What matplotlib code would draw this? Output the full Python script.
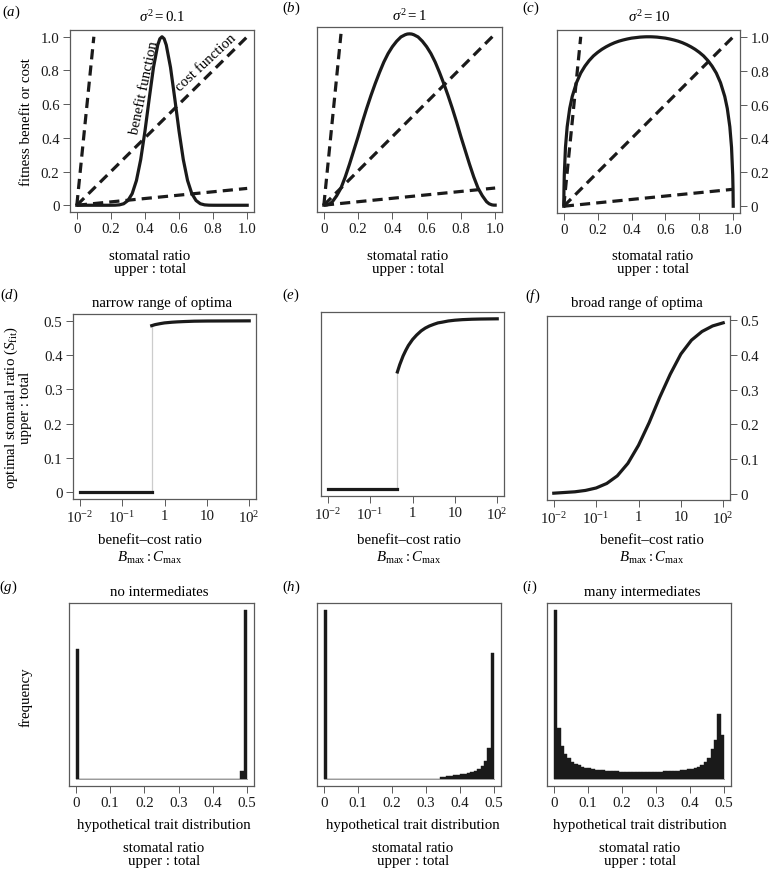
import numpy as np
import matplotlib
matplotlib.use("Agg")
import matplotlib.pyplot as plt

# ---- data ----
# row 1: benefit functions for three variances, x = stomatal ratio
ratio_x = [0, 0.001, 0.003, 0.01, 0.02, 0.035, 0.05, 0.075, 0.1, 0.125, 0.15, 0.175,
           0.2, 0.225, 0.25, 0.275, 0.3, 0.325, 0.35, 0.375, 0.4, 0.425, 0.45, 0.475,
           0.4875, 0.5, 0.5125, 0.525, 0.55, 0.575, 0.6, 0.625, 0.65, 0.675, 0.7,
           0.725, 0.75, 0.775, 0.8, 0.825, 0.85, 0.875, 0.9, 0.925, 0.95, 0.965,
           0.98, 0.99, 0.997, 0.999, 1.0]
benefit_s01 = [0, 0, 0, 0, 0, 0, 0, 0, 0, 0, 0, 0,
               0.0001, 0.0005, 0.0024, 0.009, 0.028, 0.069, 0.147, 0.271, 0.44, 0.633,
               0.818, 0.951, 0.988, 1.0, 0.988, 0.951, 0.818, 0.633, 0.44, 0.271,
               0.147, 0.069, 0.028, 0.009, 0.0024, 0.0005, 0.0001, 0, 0, 0, 0, 0,
               0, 0, 0, 0, 0, 0, 0]
benefit_s1 = [0, 0, 0, 0.0003, 0.002, 0.008, 0.02, 0.055, 0.10, 0.165, 0.24, 0.32,
              0.40, 0.485, 0.565, 0.64, 0.71, 0.775, 0.835, 0.885, 0.925, 0.957,
              0.982, 0.995, 0.999, 1.0, 0.999, 0.995, 0.982, 0.957, 0.925, 0.885,
              0.835, 0.775, 0.71, 0.64, 0.565, 0.485, 0.40, 0.32, 0.24, 0.165, 0.10,
              0.055, 0.02, 0.008, 0.002, 0.0003, 0, 0, 0]
benefit_s10 = [0, 0.092, 0.185, 0.348, 0.469, 0.577, 0.648, 0.729, 0.786, 0.827,
               0.860, 0.887, 0.908, 0.926, 0.941, 0.954, 0.965, 0.974, 0.981, 0.987,
               0.992, 0.995, 0.998, 0.9995, 1.0, 1.0, 1.0, 0.9995, 0.998, 0.995,
               0.992, 0.987, 0.981, 0.974, 0.965, 0.954, 0.941, 0.926, 0.908, 0.887,
               0.860, 0.827, 0.786, 0.729, 0.648, 0.577, 0.469, 0.348, 0.185, 0.092, 0]

# cost functions (three slopes)
cost_x = [[0, 0.1], [0, 1.0], [0, 1.0]]
cost_y = [[0, 1.0], [0, 1.0], [0, 0.1]]

# row 2: optimal ratio vs benefit-cost ratio
narrow_lo_x = [0.01, 0.5]
narrow_lo_y = [0.0, 0.0]
narrow_hi_x = [0.5, 0.6, 0.8, 1, 1.5, 2, 3, 5, 10, 100]
narrow_hi_y = [0.486, 0.489, 0.492, 0.494, 0.496, 0.497, 0.498, 0.499, 0.4995, 0.5]

mid_lo_x = [0.01, 0.44]
mid_lo_y = [0.01, 0.01]
mid_hi_x = [0.44, 0.5, 0.6, 0.7, 0.8, 1.0, 1.25, 1.6, 2, 2.5, 3.2, 4, 5, 7, 10,
            15, 25, 40, 100]
mid_hi_y = [0.347, 0.368, 0.393, 0.410, 0.423, 0.440, 0.453, 0.465, 0.473, 0.479,
            0.484, 0.488, 0.490, 0.4935, 0.4957, 0.4973, 0.4985, 0.4991, 0.4997]

broad_x = [0.01, 0.0178, 0.0316, 0.0562, 0.1, 0.178, 0.316, 0.562, 1, 1.78, 3.16,
           5.62, 10, 17.8, 31.6, 56.2, 100]
broad_y = [0.002, 0.004, 0.006, 0.010, 0.017, 0.030, 0.052, 0.088, 0.140, 0.205,
           0.278, 0.345, 0.403, 0.443, 0.468, 0.484, 0.493]

# row 3: hypothetical trait histograms (relative frequency, 0.01 bins on 0..0.5)
hist_none = [0.77] + [0.0] * 47 + [0.05, 1.0]
hist_some = [1.0] + [0.0] * 33 + [
    0.014, 0.016, 0.018, 0.020, 0.024, 0.027, 0.030, 0.033, 0.037, 0.043,
    0.049, 0.059, 0.078, 0.108, 0.186, 0.745]
hist_many = [1.0, 0.304, 0.196, 0.151, 0.127, 0.104, 0.092, 0.082, 0.075, 0.069,
             0.065, 0.061, 0.057, 0.055, 0.053, 0.051, 0.049, 0.047, 0.046, 0.045,
             0.045, 0.044, 0.044, 0.044, 0.044, 0.044, 0.044, 0.044, 0.044, 0.044,
             0.045, 0.045, 0.046, 0.047, 0.048, 0.049, 0.051, 0.053, 0.056, 0.059,
             0.063, 0.068, 0.075, 0.086, 0.102, 0.127, 0.176, 0.229, 0.386, 0.261]
bin_edges = np.round(np.arange(51) * 0.01, 2)

# ---- style ----
plt.rcParams["font.family"] = ["Liberation Serif", "DejaVu Serif"]
plt.rcParams["mathtext.fontset"] = "custom"
plt.rcParams["mathtext.rm"] = "Liberation Serif"
plt.rcParams["mathtext.it"] = "Liberation Serif:italic"
plt.rcParams["mathtext.bf"] = "Liberation Serif:bold"
plt.rcParams["font.size"] = 10.7

INK = "#1a1a1a"
FRAME = "#5a5a5a"
LW = 2.3

W, H = 773, 870
fig = plt.figure(figsize=(W / 100, H / 100), dpi=100)


def box(l, t, r, b):
    return [l / W, (H - b) / H, (r - l) / W, (b - t) / H]


def put(x, y, s, **kw):
    kw.setdefault("ha", "center")
    kw.setdefault("va", "center")
    fig.text(x / W, 1 - y / H, s, **kw)


def style(ax, yside=None):
    for sp in ax.spines.values():
        sp.set_color(FRAME)
        sp.set_linewidth(0.9)
    ax.tick_params(direction="out", length=5, width=0.7, color=FRAME,
                   labelsize=10.7, pad=2.5, labelcolor=INK)
    if yside is None:
        ax.set_yticks([])
    elif yside == "right":
        ax.yaxis.tick_right()
    ax.use_sticky_edges = False
    ax.margins(0.04)


# ---- row 1 ----
row1 = [box(70, 31, 254, 213), box(317, 28, 502, 213), box(557, 31, 740, 214)]
benefits = [benefit_s01, benefit_s1, benefit_s10]
yaxes = ["left", None, "right"]
ticks01 = [0, 0.2, 0.4, 0.6, 0.8, 1.0]
ticklab01 = ["0", "0.2", "0.4", "0.6", "0.8", "1.0"]
for i in range(3):
    ax = fig.add_axes(row1[i])
    for cx, cy in zip(cost_x, cost_y):
        ax.plot(cx, cy, color=INK, lw=LW, dashes=(3.2, 1.9))
    ax.plot(ratio_x, benefits[i], color=INK, lw=LW, solid_joinstyle="round")
    style(ax, yaxes[i])
    ax.set_xticks(ticks01, ticklab01)
    if yaxes[i] is not None:
        ax.set_yticks(ticks01, ticklab01)

put(162, 17, r"$\sigma^2 = 0.1$")
put(409, 16, r"$\sigma^2 = 1$")
put(649, 17, r"$\sigma^2 = 10$")
for cx in [150, 408, 653]:
    put(cx, 257, "stomatal ratio")
    put(cx, 269, "upper : total")
put(27, 122, "fitness benefit or cost", rotation=90)
put(144, 88, "benefit function", rotation=78)
put(206, 63, "cost function", rotation=43)

# ---- row 2 ----
row2 = [box(73, 315, 256, 500), box(321, 313, 504, 497), box(547, 317, 730, 501)]
curves2 = [(narrow_lo_x, narrow_lo_y, narrow_hi_x, narrow_hi_y),
           (mid_lo_x, mid_lo_y, mid_hi_x, mid_hi_y),
           None]
logticks = [0.01, 0.1, 1, 10, 100]
loglabs = [r"$10^{-2}$", r"$10^{-1}$", "1", "10", r"$10^{2}$"]
yticks2 = [0, 0.1, 0.2, 0.3, 0.4, 0.5]
ylabs2 = ["0", "0.1", "0.2", "0.3", "0.4", "0.5"]
for i in range(3):
    ax = fig.add_axes(row2[i])
    ax.set_xscale("log")
    if curves2[i] is not None:
        lx, ly, hx, hy = curves2[i]
        ax.plot([lx[-1], hx[0]], [ly[-1], hy[0]], color="#cccccc", lw=0.9)
        ax.plot(lx, ly, color=INK, lw=LW)
        ax.plot(hx, hy, color=INK, lw=LW, solid_joinstyle="round")
    else:
        ax.plot(broad_x, broad_y, color=INK, lw=LW, solid_joinstyle="round")
    style(ax, ["left", None, "right"][i])
    ax.set_xticks(logticks, loglabs)
    ax.xaxis.set_minor_locator(matplotlib.ticker.NullLocator())
    if i != 1:
        ax.set_yticks(yticks2, ylabs2)

put(162, 303, "narrow range of optima")
put(637, 303, "broad range of optima")
for cx in [150, 409, 652]:
    put(cx, 541, "benefit–cost ratio")
    put(cx, 558, r"$B_{\rm max} : C_{\rm max}$")
put(11, 408, r"optimal stomatal ratio ($S_{\rm fit}$)", rotation=90)
put(26, 408, "upper : total", rotation=90)

# ---- row 3 ----
row3 = [box(69, 604, 254, 787), box(317, 604, 501, 787), box(547, 604, 731, 787)]
hists = [hist_none, hist_some, hist_many]
xticks3 = [0, 0.1, 0.2, 0.3, 0.4, 0.5]
for i in range(3):
    ax = fig.add_axes(row3[i])
    ax.plot([bin_edges[0], bin_edges[-1]], [0, 0], color="#9a9a9a", lw=0.7)
    ax.bar(bin_edges[:-1], hists[i], width=0.01, align="edge", color=INK,
           edgecolor=INK, linewidth=0.3)
    style(ax, None)
    ax.set_xticks(xticks3, ylabs2)

put(159, 593, "no intermediates")
put(642, 593, "many intermediates")
for cx in [164, 413, 640]:
    put(cx, 826, "hypothetical trait distribution")
    put(cx, 849, "stomatal ratio")
    put(cx, 862, "upper : total")
put(26, 697, "frequency", rotation=90)

# ---- panel letters ----
letters = [("a", 11, 12), ("b", 291, 8), ("c", 531, 8),
           ("d", 9, 295), ("e", 291, 295), ("f", 533, 296),
           ("g", 8, 587), ("h", 291, 587), ("i", 530, 587)]
for lab, x, y in letters:
    put(x, y, "$(" + lab + ")$")

fig.savefig("out.png", dpi=100)
